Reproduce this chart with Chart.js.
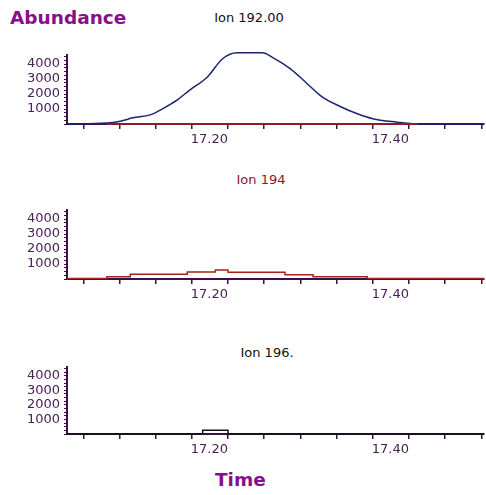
<!DOCTYPE html>
<html>
<head>
<meta charset="utf-8">
<script src="https://cdn.jsdelivr.net/npm/chart.js@4.4.0/dist/chart.umd.min.js"></script>
<style>
  body { margin: 0; background: #fff; width: 486px; height: 495px; position: relative; overflow: hidden; font-family: "DejaVu Sans", sans-serif; }
  .panel { position: absolute; left: 0; }
  .big { position: absolute; color: #85108a; font-weight: bold; font-size: 18.5px; line-height: 1; }
  .ttl { position: absolute; font-size: 13px; line-height: 15px; transform: translateX(-50%); white-space: nowrap; }
</style>
</head>
<body>
<div class="big" style="left:10px;top:9px">Abundance</div>
<div class="ttl" style="left:249px;top:10px;color:#111">Ion 192.00</div>
<div class="ttl" style="left:261px;top:172px;color:#8b1a1a">Ion 194</div>
<div class="ttl" style="left:267px;top:345px;color:#111">Ion 196.</div>
<canvas class="panel" id="p1" width="486" height="152" style="top:0px"></canvas>
<canvas class="panel" id="p2" width="486" height="147" style="top:160px"></canvas>
<canvas class="panel" id="p3" width="486" height="132" style="top:330px"></canvas>
<div class="big" style="left:215px;top:471px">Time</div>
<script>
// retention time (min) / abundance
const ion192Time = [17.022, 17.066, 17.081, 17.095, 17.114, 17.128, 17.144, 17.158, 17.177, 17.194, 17.210, 17.238, 17.250, 17.269, 17.287, 17.304, 17.324, 17.343, 17.360, 17.387, 17.404, 17.481];
const ion192Abund = [0, 60, 190, 410, 610, 1030, 1610, 2280, 3120, 4350, 4750, 4750, 4410, 3680, 2720, 1810, 1170, 680, 350, 120, 20, 0];
const ion194OverlayTime = [17.066, 17.409];
const ion194OverlayAbund = [0, 0];

const ion194Time = [17.022, 17.066, 17.092, 17.155, 17.186, 17.200, 17.263, 17.294, 17.354, 17.483];
const ion194Abund = [30, 150, 320, 460, 600, 450, 290, 150, 30, 30];

const ion196Time = [17.022, 17.172, 17.200, 17.483];
const ion196Abund = [0, 250, 0, 0];

const xTicks = [17.04, 17.08, 17.12, 17.16, 17.20, 17.24, 17.28, 17.32, 17.36, 17.40, 17.44, 17.48];
const xLabels = [17.20, 17.40];
const yLabels = [1000, 2000, 3000, 4000];

const axisColor = '#3a1046';
const tickColor = '#4a2058';

const pts = (xs, ys) => xs.map((x, i) => ({x: x, y: ys[i]}));

function makePanel(id, padTop, datasets) {
  new Chart(document.getElementById(id), {
    type: 'line',
    data: {datasets: datasets},
    options: {
      responsive: false,
      animation: false,
      layout: {padding: {left: 0, right: 2, top: padTop, bottom: 0}},
      plugins: {legend: {display: false}, tooltip: {enabled: false}},
      scales: {
        x: {
          type: 'linear', min: 17.022, max: 17.483,
          afterBuildTicks: s => { s.ticks = xTicks.map(v => ({value: v})); },
          afterFit: s => { s.height = 28; },
          ticks: {
            autoSkip: false, maxRotation: 0, align: 'end', padding: 3,
            color: tickColor, font: {family: 'DejaVu Sans', size: 13},
            callback: v => xLabels.some(l => Math.abs(l - v) < 1e-6) ? v.toFixed(2) : ''
          },
          grid: {drawOnChartArea: false, tickLength: 5, color: axisColor, lineWidth: 1.5},
          border: {color: axisColor, width: 2}
        },
        y: {
          min: 0, max: 4600,
          afterBuildTicks: s => { const t = []; for (let v = 0; v <= 4500; v += 250) t.push({value: v}); s.ticks = t; },
          afterFit: s => { s.width = 67; },
          ticks: {
            autoSkip: false, padding: 4, color: tickColor,
            font: {family: 'DejaVu Sans', size: 13},
            callback: v => yLabels.includes(v) ? String(v) : ''
          },
          grid: {drawOnChartArea: false, tickLength: 3, color: axisColor, lineWidth: 1},
          border: {color: axisColor, width: 2}
        }
      }
    }
  });
}

makePanel('p1', 55, [
  {data: pts(ion194OverlayTime, ion194OverlayAbund), borderColor: '#a3231f', borderWidth: 1.5, pointRadius: 0, clip: false},
  {data: pts(ion192Time, ion192Abund), borderColor: '#1c2470', borderWidth: 1.5, pointRadius: 0,
   tension: 0.4, cubicInterpolationMode: 'monotone', clip: false}
]);

makePanel('p2', 50, [
  {data: pts(ion194Time, ion194Abund), borderColor: '#a3231f', borderWidth: 1.5, pointRadius: 0, stepped: true, clip: false}
]);

makePanel('p3', 37, [
  {data: pts(ion196Time, ion196Abund), borderColor: '#111111', borderWidth: 1.5, pointRadius: 0, stepped: true, clip: false}
]);
</script>
</body>
</html>
